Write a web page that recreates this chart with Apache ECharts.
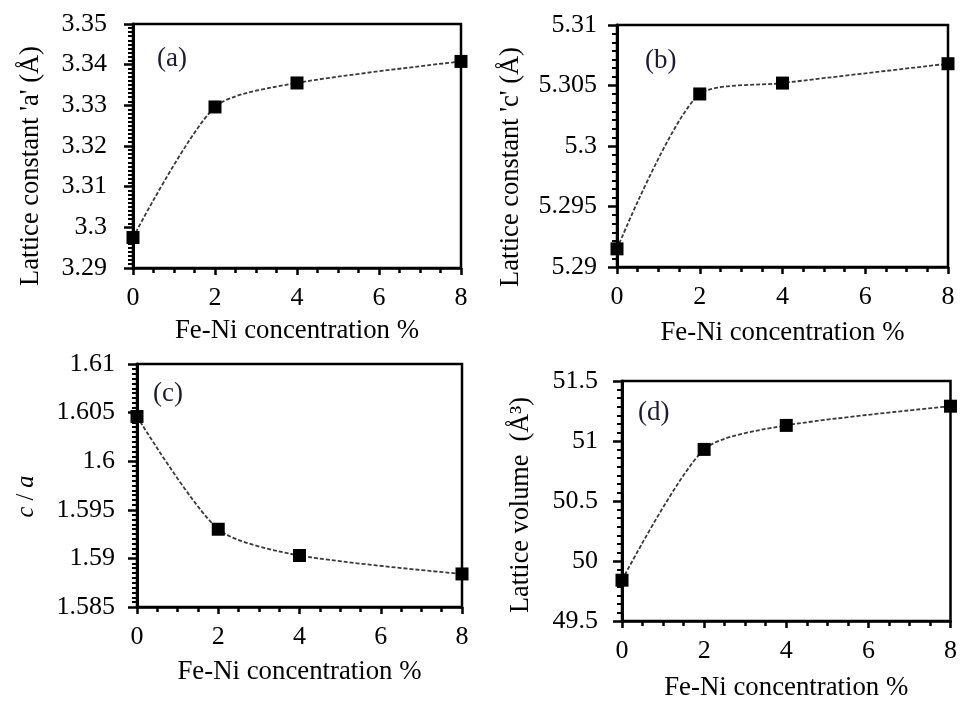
<!DOCTYPE html>
<html>
<head>
<meta charset="utf-8">
<script src="https://cdn.jsdelivr.net/npm/echarts@6/dist/echarts.min.js"></script>
<style>html,body{margin:0;padding:0;background:#fff}#c{width:960px;height:702px}</style>
</head>
<body>
<div id="c"></div>
<script>
// Data
const concentration = [0, 2, 4, 8];
const latticeA = [3.2975, 3.3296, 3.3355, 3.3408];
const latticeC = [5.2915, 5.3043, 5.3052, 5.3068];
const ratioCA = [1.6046, 1.5930, 1.5903, 1.5884];
const volume = [49.84, 50.93, 51.13, 51.29];
const xTicks = [0, 2, 4, 6, 8];
const panelLabels = ['(a)', '(b)', '(c)', '(d)'];
const xName = 'Fe-Ni concentration %';
const yNames = ["Lattice constant 'a' (Å)", "Lattice constant 'c' (Å)", '{i|c} / {i|a}', 'Lattice volume  (Å³)'];

const FONT = 'Liberation Serif';
const chart = echarts.init(document.getElementById('c'));

const grids = [
  {left: 133, top: 24, width: 328, height: 244},
  {left: 617, top: 25, width: 331, height: 242},
  {left: 137, top: 364, width: 325, height: 243},
  {left: 622, top: 381, width: 333, height: 240}
];
const yCfg = [
  {min: 3.29, max: 3.35, interval: 0.01, minor: 10, margin: 26, gap: 88, pad: [0, 40, 0, 0], fs: 26.5},
  {min: 5.29, max: 5.31, interval: 0.005, minor: 7, margin: 20, gap: 92, pad: [0, 42, 0, 0], fs: 26.5},
  {min: 1.585, max: 1.61, interval: 0.005, minor: 10, margin: 22, gap: 98, pad: [0, 22, 0, 0], fs: 24.5},
  {min: 49.5, max: 51.5, interval: 0.5, minor: 7, margin: 24, gap: 88, pad: [0, 8, 0, 0], fs: 26.3}
];
const xGaps = [49, 52, 51, 53];
const seriesData = [latticeA, latticeC, ratioCA, volume];
const labelPos = [[157, 45], [645, 47], [153, 380], [638, 399]];

const option = {
  animation: false,
  backgroundColor: '#fff',
  grid: grids.map(g => Object.assign({show: true, borderColor: '#000', borderWidth: 2.5, backgroundColor: 'transparent'}, g)),
  xAxis: grids.map((g, i) => ({
    type: 'value', gridIndex: i, min: xTicks[0], max: xTicks[xTicks.length - 1], interval: 2,
    name: xName, nameLocation: 'middle', nameGap: xGaps[i],
    nameTextStyle: {fontFamily: FONT, fontSize: 26.8, color: '#000'},
    axisLine: {show: true, onZero: false, lineStyle: {color: '#000', width: 2.5}},
    axisTick: {show: true, inside: false, length: 7, lineStyle: {color: '#000', width: 2.5}},
    minorTick: {show: true, splitNumber: 4, length: 5, lineStyle: {color: '#000', width: 2.5}},
    splitLine: {show: false},
    axisLabel: {fontFamily: FONT, fontSize: 26, color: '#000', margin: 17}
  })),
  yAxis: grids.map((g, i) => ({
    type: 'value', gridIndex: i, min: yCfg[i].min, max: yCfg[i].max, interval: yCfg[i].interval,
    name: yNames[i], nameLocation: 'middle', nameGap: yCfg[i].gap,
    nameTextStyle: {fontFamily: FONT, fontSize: yCfg[i].fs, color: '#000', padding: yCfg[i].pad,
      rich: {i: {fontFamily: FONT, fontSize: yCfg[i].fs, fontStyle: 'italic', color: '#000'}}},
    axisLine: {show: true, onZero: false, lineStyle: {color: '#000', width: 3}},
    axisTick: {show: true, inside: false, length: 9, lineStyle: {color: '#000', width: 2.5}},
    minorTick: {show: true, splitNumber: yCfg[i].minor, length: 5, lineStyle: {color: '#000', width: 2}},
    splitLine: {show: false},
    axisLabel: {fontFamily: FONT, fontSize: 26, color: '#000', margin: yCfg[i].margin}
  })),
  series: seriesData.map((d, i) => ({
    type: 'line', xAxisIndex: i, yAxisIndex: i,
    data: concentration.map((x, k) => [x, d[k]]),
    smooth: 0.25,
    symbol: 'rect', symbolSize: 13,
    itemStyle: {color: '#000'},
    lineStyle: {color: '#3a3a3a', width: 1.8, type: [4, 2]},
    clip: false, z: 3
  })),
  graphic: panelLabels.map((t, i) => ({
    type: 'text', left: labelPos[i][0], top: labelPos[i][1], z: 10,
    style: {text: t, fontFamily: FONT, fontSize: 27, fill: '#1c1c30'}
  }))
};
chart.setOption(option);
</script>
</body>
</html>
